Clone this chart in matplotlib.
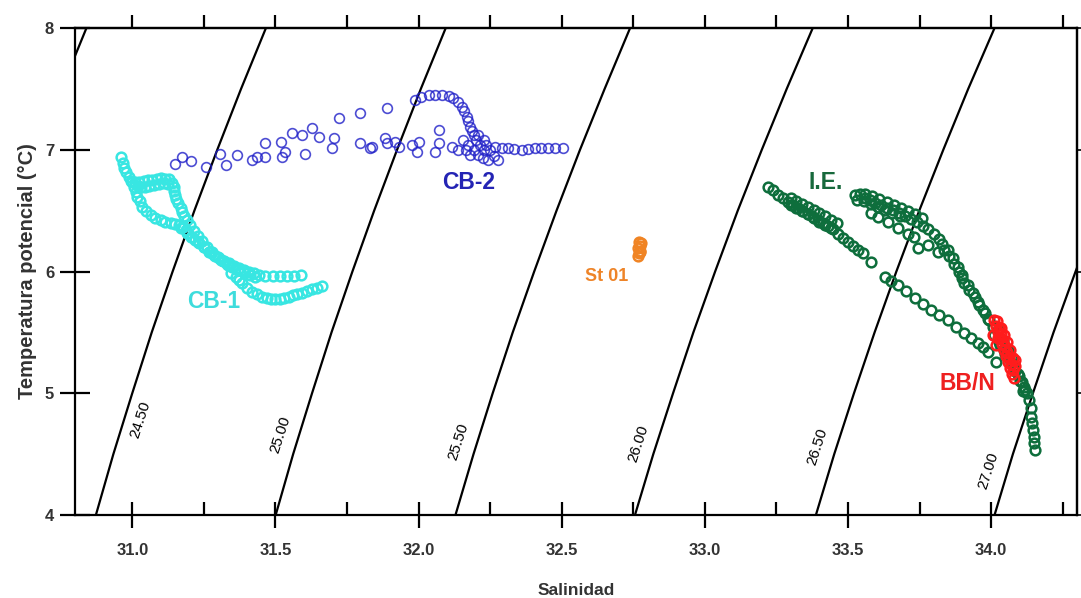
import numpy as np
import matplotlib.pyplot as plt
from matplotlib.ticker import MultipleLocator, FormatStrFormatter

plt.rcParams['font.family'] = ['Liberation Sans', 'DejaVu Sans']

# Isopicnas sigma-t: salinidad leida a cada temperatura
iso_sigma = [24.0, 24.5, 25.0, 25.5, 26.0, 26.5, 27.0]
iso_temp = [4.0, 4.5, 5.0, 5.5, 6.0, 6.5, 7.0, 7.5, 8.0]
iso_sal = [
    [30.246, 30.307, 30.373, 30.441, 30.514, 30.590, 30.670, 30.753, 30.840],
    [30.873, 30.934, 31.000, 31.068, 31.141, 31.217, 31.297, 31.380, 31.467],
    [31.501, 31.562, 31.628, 31.696, 31.769, 31.845, 31.925, 32.008, 32.095],
    [32.129, 32.192, 32.259, 32.329, 32.404, 32.482, 32.564, 32.650, 32.739],
    [32.756, 32.820, 32.889, 32.960, 33.036, 33.115, 33.199, 33.286, 33.377],
    [33.388, 33.452, 33.521, 33.593, 33.669, 33.749, 33.833, 33.920, 34.012],
    [34.012, 34.076, 34.146, 34.218, 34.295, 34.375, 34.459, 34.547, 34.639],
]

# CB-1
cb1_sal = [30.960, 30.966, 30.971, 30.978, 30.988, 30.996, 31.006, 31.012, 31.017, 31.026,
           31.035, 31.048, 31.064, 31.080, 31.099, 31.116, 31.134, 31.150, 31.163, 31.176,
           31.186, 31.195, 31.204, 31.218, 31.233, 31.250, 31.268, 31.285, 31.303, 31.320,
           31.338, 31.355, 31.372, 31.390, 31.407, 31.425, 31.442,
           31.465, 31.490, 31.515, 31.540, 31.565, 31.590,
           31.000, 31.010, 31.025, 31.040, 31.055, 31.070, 31.085, 31.100, 31.115, 31.130,
           31.140, 31.145, 31.146, 31.148, 31.153, 31.160, 31.169, 31.175, 31.180, 31.190,
           31.200, 31.215, 31.230, 31.245, 31.262, 31.280, 31.298, 31.316, 31.334,
           31.345, 31.361, 31.372, 31.384, 31.400, 31.419, 31.436, 31.453, 31.470, 31.485,
           31.500, 31.515, 31.531, 31.547, 31.562, 31.577, 31.593, 31.610, 31.628, 31.645,
           31.663,
           31.020, 31.030, 31.045, 31.060, 31.075, 31.095, 31.110, 31.125,
           31.170, 31.190, 31.210, 31.230, 31.250, 31.270, 31.290, 31.310, 31.330, 31.350,
           31.370, 31.390, 31.410, 31.430]
cb1_temp = [6.943, 6.895, 6.848, 6.815, 6.779, 6.740, 6.697, 6.655, 6.615, 6.575,
            6.532, 6.498, 6.464, 6.440, 6.423, 6.408, 6.396, 6.389, 6.382, 6.362,
            6.341, 6.314, 6.286, 6.260, 6.232, 6.198, 6.163, 6.135, 6.109, 6.088,
            6.067, 6.046, 6.026, 6.012, 5.998, 5.984, 5.971,
            5.965, 5.963, 5.963, 5.965, 5.966, 5.968,
            6.735, 6.735, 6.738, 6.742, 6.748, 6.752, 6.758, 6.764, 6.762, 6.757,
            6.730, 6.697, 6.660, 6.628, 6.595, 6.560, 6.525, 6.491, 6.457, 6.423,
            6.380, 6.330, 6.290, 6.250, 6.205, 6.160, 6.120, 6.085, 6.050,
            5.990, 5.957, 5.930, 5.903, 5.868, 5.834, 5.812, 5.793, 5.782, 5.775,
            5.772, 5.776, 5.784, 5.793, 5.803, 5.814, 5.826, 5.840, 5.854, 5.868,
            5.883,
            6.700, 6.690, 6.690, 6.700, 6.710, 6.720, 6.725, 6.720,
            6.355, 6.320, 6.280, 6.240, 6.200, 6.160, 6.125, 6.095, 6.065, 6.040,
            6.015, 5.995, 5.975, 5.958]

# CB-2
cb2_sal = [31.149, 31.174, 31.204, 31.256, 31.308, 31.326, 31.366, 31.419, 31.436, 31.465,
           31.465, 31.523, 31.535, 31.518, 31.558, 31.593, 31.605, 31.628, 31.651, 31.704,
           31.698, 31.721, 31.797, 31.797, 31.832, 31.889, 31.889, 31.930, 31.837, 31.884,
           31.919, 31.977, 32.000, 31.994, 32.058, 32.070, 32.070, 32.116,
           31.989, 32.010, 32.035, 32.059, 32.081, 32.105, 32.122, 32.139, 32.151, 32.160,
           32.168, 32.174, 32.180, 32.185, 32.192,
           32.157, 32.174, 32.192, 32.209, 32.226, 32.244, 32.202, 32.216, 32.230, 32.181,
           32.167, 32.139, 32.209, 32.227, 32.237, 32.251, 32.262, 32.279,
           32.268, 32.290, 32.314, 32.335, 32.360, 32.384, 32.407, 32.429, 32.453, 32.478,
           32.506]
cb2_temp = [6.883, 6.943, 6.910, 6.861, 6.965, 6.875, 6.957, 6.916, 6.943, 7.053,
            6.943, 6.943, 6.984, 7.066, 7.135, 7.121, 6.965, 7.176, 7.107, 7.094,
            7.012, 7.258, 7.300, 7.058, 7.012, 7.341, 7.053, 7.025, 7.025, 7.094,
            7.066, 7.039, 7.066, 6.984, 6.984, 7.162, 7.053, 7.025,
            7.409, 7.433, 7.450, 7.450, 7.450, 7.442, 7.423, 7.392, 7.354, 7.318,
            7.272, 7.236, 7.190, 7.154, 7.121,
            7.080, 7.039, 6.998, 6.957, 6.932, 6.916, 7.080, 7.039, 6.998, 6.957,
            6.998, 6.998, 7.121, 7.080, 7.039, 6.998, 6.949, 6.916,
            7.025, 7.014, 7.012, 7.006, 6.998, 7.006, 7.012, 7.012, 7.012, 7.012,
            7.012]

# St 01
st01_sal = [32.765, 32.770, 32.775, 32.768, 32.772, 32.778, 32.770, 32.774]
st01_temp = [6.13, 6.15, 6.17, 6.19, 6.21, 6.23, 6.24, 6.16]

# I.E.
ie_sal = [33.221, 33.238, 33.256, 33.273, 33.291, 33.308, 33.326, 33.343, 33.361, 33.378,
          33.396, 33.413, 33.431, 33.448, 33.465, 33.483, 33.500, 33.518, 33.535, 33.552,
          33.581,
          33.300, 33.320, 33.340, 33.360, 33.380, 33.400, 33.420, 33.440,
          33.300, 33.320, 33.340, 33.360, 33.380, 33.400, 33.420, 33.440, 33.460,
          33.524, 33.542, 33.559, 33.576, 33.594, 33.615, 33.636, 33.657, 33.678, 33.699,
          33.720, 33.741, 33.761, 33.779, 33.800, 33.817, 33.827, 33.837, 33.852, 33.872,
          33.887, 33.897, 33.907, 33.922, 33.942, 33.957, 33.977, 33.992, 34.006,
          33.530, 33.555, 33.580, 33.605, 33.630, 33.655, 33.680,
          33.560, 33.585, 33.610, 33.635, 33.660, 33.685, 33.710, 33.735, 33.760,
          33.850, 33.866, 33.884, 33.900, 33.918, 33.935, 33.953, 33.970, 33.988,
          33.581, 33.604, 33.639, 33.674, 33.709, 33.732, 33.744, 33.779, 33.814,
          33.628, 33.650, 33.674, 33.702, 33.733, 33.761, 33.790, 33.817, 33.848, 33.876,
          33.907, 33.929, 33.953, 33.971, 33.988, 34.017,
          34.023, 34.040, 34.058, 34.072, 34.081, 34.096, 34.116, 34.124, 34.134, 34.138,
          34.139, 34.142, 34.145, 34.149, 34.151, 34.152,
          34.030, 34.050, 34.068, 34.085, 34.100, 34.110,
          34.010, 34.028, 34.045, 34.062, 34.080, 34.095, 34.108, 34.120]
ie_temp = [6.697, 6.670, 6.628, 6.604, 6.573, 6.546, 6.522, 6.497, 6.472, 6.448,
           6.423, 6.398, 6.373, 6.349, 6.308, 6.273, 6.242, 6.209, 6.177, 6.152,
           6.081,
           6.545, 6.520, 6.495, 6.470, 6.440, 6.410, 6.385, 6.355,
           6.600, 6.580, 6.555, 6.530, 6.505, 6.478, 6.452, 6.425, 6.395,
           6.628, 6.636, 6.604, 6.587, 6.563, 6.546, 6.522, 6.505, 6.480, 6.456,
           6.431, 6.407, 6.374, 6.349, 6.308, 6.267, 6.222, 6.177, 6.127, 6.062,
           5.996, 5.950, 5.903, 5.848, 5.793, 5.725, 5.657, 5.602, 5.547,
           6.590, 6.575, 6.555, 6.530, 6.505, 6.478, 6.452,
           6.640, 6.620, 6.597, 6.572, 6.548, 6.523, 6.497, 6.470, 6.440,
           6.177, 6.110, 6.040, 5.970, 5.890, 5.820, 5.750, 5.680, 5.610,
           6.478, 6.448, 6.409, 6.357, 6.308, 6.286, 6.191, 6.218, 6.160,
           5.957, 5.922, 5.889, 5.840, 5.780, 5.733, 5.684, 5.643, 5.602, 5.544,
           5.493, 5.454, 5.410, 5.380, 5.341, 5.259,
           5.520, 5.437, 5.355, 5.290, 5.218, 5.142, 5.054, 5.002, 4.945, 4.879,
           4.807, 4.756, 4.698, 4.641, 4.589, 4.534,
           5.400, 5.320, 5.250, 5.180, 5.100, 5.020,
           5.480, 5.420, 5.355, 5.290, 5.225, 5.160, 5.090, 5.030]

# BB/N
bbn_sal = [34.011, 34.016, 34.023, 34.030, 34.037, 34.044, 34.051, 34.058, 34.065, 34.072,
           34.079, 34.033, 34.044, 34.054, 34.065, 34.075, 34.082, 34.005, 34.016,
           34.020, 34.027, 34.034, 34.041, 34.048, 34.055, 34.062, 34.069, 34.076, 34.085,
           34.025]
bbn_temp = [5.602, 5.553, 5.503, 5.454, 5.405, 5.355, 5.306, 5.257, 5.207, 5.158,
            5.125, 5.536, 5.479, 5.421, 5.355, 5.290, 5.224, 5.479, 5.396,
            5.590, 5.540, 5.490, 5.440, 5.390, 5.340, 5.290, 5.240, 5.190, 5.270,
            5.450]

fig = plt.figure(figsize=(10.81, 5.98), dpi=100)
ax = fig.add_axes([75 / 1081, 1 - 515 / 598, 1002 / 1081, 487 / 598])

# isopicnas y sus etiquetas
lab_temp = [None, 4.78, 4.66, 4.60, 4.59, 4.56, 4.36]
lab_dx = [0, 16, -19, -19, -19, -19, -19]
for sig, sal, tl, dx in zip(iso_sigma, iso_sal, lab_temp, lab_dx):
    ax.plot(sal, iso_temp, color='black', lw=1.6, zorder=2)
    if tl is None:
        continue
    s_on = np.interp(tl, iso_temp, sal)
    ax.annotate(f'{sig:.2f}', xy=(s_on, tl), xytext=(dx, 0), textcoords='offset pixels',
                rotation=72, ha='center', va='center', fontsize=11, zorder=3)

mk = dict(ls='none', marker='o', mfc='none', ms=7, zorder=4)
ax.plot(cb1_sal, cb1_temp, mec='#38e6e2', mew=1.8, **mk)
ax.plot(cb2_sal, cb2_temp, mec='#2020c8', mew=1.2, alpha=0.8, **mk)
ax.plot(st01_sal, st01_temp, mec='#f08424', mew=1.8, **mk)
ax.plot(ie_sal, ie_temp, mec='#0e6e3c', mew=1.8, **mk)
ax.plot(bbn_sal, bbn_temp, mec='#ff1c1c', mew=1.8, **mk)

txt = dict(fontweight='bold', ha='center', va='center', zorder=5)
ax.text(31.285, 5.75, 'CB-1', color='#3edcdc', fontsize=16.5, **txt)
ax.text(32.176, 6.727, 'CB-2', color='#2424b4', fontsize=16.5, **txt)
ax.text(32.656, 5.963, 'St 01', color='#ee8428', fontsize=13, **txt)
ax.text(33.423, 6.727, 'I.E.', color='#17693c', fontsize=16.5, **txt)
ax.text(33.918, 5.076, 'BB/N', color='#ee2020', fontsize=16.5, **txt)

ax.set_xlim(30.8, 34.3)
ax.set_ylim(4, 8)
ax.xaxis.set_major_locator(MultipleLocator(0.5))
ax.xaxis.set_minor_locator(MultipleLocator(0.25))
ax.xaxis.set_major_formatter(FormatStrFormatter('%.1f'))
ax.yaxis.set_major_locator(MultipleLocator(1))
ax.yaxis.set_major_formatter(FormatStrFormatter('%d'))

for sp in ax.spines.values():
    sp.set_linewidth(1.6)

ax.tick_params(axis='x', which='major', direction='inout', length=18.7, width=1.6,
               pad=11, labelsize=12)
ax.tick_params(axis='x', which='minor', direction='in', length=9.4, width=1.6)
ax.tick_params(axis='y', which='major', direction='inout', length=22, width=1.6,
               pad=4, labelsize=12)
for lab in ax.get_xticklabels() + ax.get_yticklabels():
    lab.set_fontweight('bold')
    lab.set_color('#333333')

top = ax.secondary_xaxis('top')
top.xaxis.set_major_locator(MultipleLocator(0.25))
top.tick_params(direction='out', length=9.4, width=1.6, labeltop=False)
top.spines['top'].set_linewidth(1.6)

right = ax.secondary_yaxis('right')
right.yaxis.set_major_locator(MultipleLocator(1))
right.tick_params(direction='out', length=4, width=1.2, labelright=False)
right.spines['right'].set_linewidth(1.6)

ax.set_xlabel('Salinidad', fontsize=12.5, fontweight='bold', color='#333333', labelpad=18)
ax.set_ylabel('Temperatura potencial (°C)', fontsize=14.5, fontweight='bold',
              color='#333333', labelpad=6)

fig.savefig('out.png', dpi=100)
